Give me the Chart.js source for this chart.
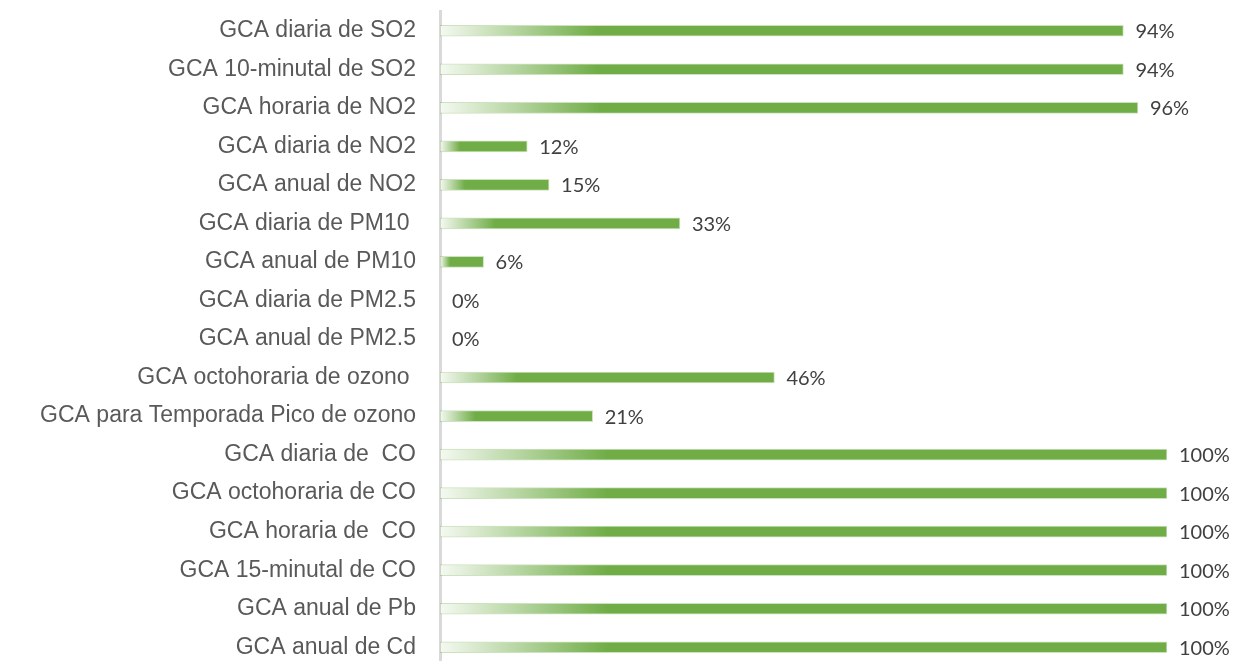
<!DOCTYPE html>
<html>
<head>
<meta charset="utf-8">
<script src="https://cdn.jsdelivr.net/npm/chart.js@4/dist/chart.umd.min.js"></script>
<style>
	html, body { margin: 0; padding: 0; background: #fff; overflow: hidden; }
	#wrap { width: 1236px; height: 678px; position: relative; }
</style>
</head>
<body>
<div id="wrap"><canvas id="chart"></canvas></div>
<script>
// Categories top to bottom, as in the picture.
const categories = [
	"GCA diaria de SO2",
	"GCA 10-minutal de SO2",
	"GCA horaria de NO2",
	"GCA diaria de NO2",
	"GCA anual de NO2",
	"GCA diaria de PM10 ",
	"GCA anual de PM10",
	"GCA diaria de PM2.5",
	"GCA anual de PM2.5",
	"GCA octohoraria de ozono ",
	"GCA para Temporada Pico de ozono",
	"GCA diaria de  CO",
	"GCA octohoraria de CO",
	"GCA horaria de  CO",
	"GCA 15-minutal de CO",
	"GCA anual de Pb",
	"GCA anual de Cd",
];
const percentages = [94, 94, 96, 12, 15, 33, 6, 0, 0, 46, 21, 100, 100, 100, 100, 100, 100];
const axisMin = 0;
const axisMax = 100;

const GREEN = "#70ad47";

// Bars fade in from near white over the first quarter of their length.
function barFill(ctx){
	const chart = ctx.chart;
	if (!ctx.raw) return "rgba(0,0,0,0)";
	if (!chart.chartArea || !chart.scales.x) return GREEN;
	const sx = chart.scales.x;
	const x0 = sx.getPixelForValue(0);
	const x1 = sx.getPixelForValue(ctx.raw);
	if (x1 - x0 < 2) return GREEN;
	const g = chart.ctx.createLinearGradient(x0, 0, x1, 0);
	g.addColorStop(0, "#f5f9f2");
	g.addColorStop(0.23, GREEN);
	g.addColorStop(1, GREEN);
	return g;
}

const valueLabels = {
	id: "valueLabels",
	afterDatasetsDraw(chart){
		const c = chart.ctx;
		const meta = chart.getDatasetMeta(0);
		c.save();
		c.font = "20px Lato";
		c.fillStyle = "#404040";
		c.textBaseline = "middle";
		c.textAlign = "left";
		meta.data.forEach((bar, i) => {
			c.fillText(percentages[i] + "%", bar.x + 12, bar.y + 1);
		});
		c.restore();
	}
};

new Chart(document.querySelector("#chart"), {
	type: "bar",
	data: {
		labels: categories,
		datasets: [{
			data: percentages,
			backgroundColor: barFill,
			borderColor: "rgba(112,173,71,0.35)",
			borderWidth: ctx => ctx.raw ? 1 : 0,
			borderSkipped: false,
			barThickness: 11,
		}],
	},
	options: {
		indexAxis: "y",
		responsive: true,
		maintainAspectRatio: false,
		animation: false,
		layout: { padding: { top: 11, bottom: 11, left: 0, right: 69 } },
		plugins: {
			legend: { display: false },
			tooltip: { enabled: false },
		},
		scales: {
			x: {
				display: false,
				min: axisMin,
				max: axisMax,
			},
			y: {
				grid: { display: false, drawTicks: true, tickLength: 24 },
				border: { display: true, color: "#d9d9d9", width: 3 },
				ticks: {
					color: "#595959",
					font: { family: "'Liberation Sans', Arial", size: 23, lineHeight: 1 },
					padding: 0,
				},
				afterFit(scale){ scale.width = 440; },
			},
		},
	},
	plugins: [valueLabels],
});
</script>
</body>
</html>
